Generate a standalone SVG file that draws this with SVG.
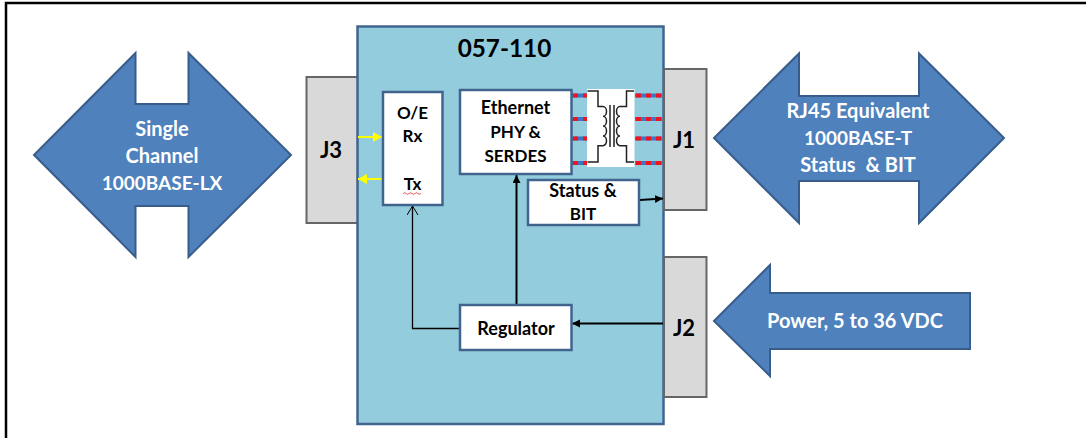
<svg xmlns="http://www.w3.org/2000/svg" width="1086" height="438" viewBox="0 0 1086 438">
<style>
text{font-family:Lato,"Liberation Sans",sans-serif;font-weight:700;text-anchor:middle;fill:#000}
.a{fill:#4f81bd;stroke:#385d8a;stroke-width:2;stroke-linejoin:miter}
.at{fill:#fff;font-size:20px}
.n{font-size:19px}
.g{fill:#d9d9d9;stroke:#666;stroke-width:2}
.b{fill:#fff;stroke:#41648f;stroke-width:2.5}
.t{font-size:18px}
.s{font-size:17px}
.j{font-size:22px}
.k{fill:none;stroke:#000;stroke-width:2}
.kt{fill:none;stroke:#000;stroke-width:1.3}
.y{fill:none;stroke:#ffff00;stroke-width:2}
.db{stroke:#3f74c4;stroke-width:4;fill:none}
.dr{stroke:#f0141e;stroke-width:4;stroke-dasharray:5 5;fill:none}
.x{fill:none;stroke:#222;stroke-width:1.5}
</style>
<defs>
<marker id="ah" markerUnits="userSpaceOnUse" markerWidth="9" markerHeight="9" refX="8" refY="4" orient="auto"><path d="M0 0L8 4L0 8Z" fill="#000"/></marker>
<marker id="ay" markerUnits="userSpaceOnUse" markerWidth="10" markerHeight="10" refX="9" refY="5" orient="auto"><path d="M0 0L9 5L0 10Z" fill="#ffff00"/></marker>
<marker id="ao" markerUnits="userSpaceOnUse" markerWidth="10" markerHeight="12" refX="9" refY="5.500" orient="auto"><path d="M0 0L9 5.500L0 11" fill="none" stroke="#000" stroke-width="1"/></marker>
</defs>
<rect width="1086" height="438" fill="#fff"/>
<path id="frame" d="M6 438V3H1086" fill="none" stroke="#000" stroke-width="2.500"/>

<g id="single-channel"><path class="a" d="M34 155L135.500 53V104H188.500V53L291 155L188.500 257V206H135.500V257Z"/>
<text class="at" x="162" y="136">Single</text><text class="at" x="162" y="163">Channel</text><text class="at n" x="162" y="190">1000BASE-LX</text></g>
<g id="rj45"><path class="a" d="M714 138L799 53.500V96H919V53.500L1004 138L919 223V181H799V223Z"/>
<text class="at" x="858" y="118">RJ45 Equivalent</text><text class="at n" x="858" y="145">1000BASE-T</text><text class="at" x="858" y="172" xml:space="preserve">Status  &amp; BIT</text></g>
<g id="power"><path class="a" d="M714 321L770 265V293H970V349H770V376Z"/>
<text class="at" x="855" y="328">Power, 5 to 36 VDC</text></g>

<g id="j3"><rect class="g" x="306.500" y="77" width="60" height="146"/><text class="j" x="331" y="158">J3</text></g>
<g id="module"><rect x="357.500" y="26.500" width="306" height="397.500" fill="#93cddd" stroke="#41648f" stroke-width="2.500"/>
<text x="504.500" y="57" font-size="24.300">057-110</text></g>
<g id="j1"><path d="M664 69H706.500V210H664Z" fill="#d9d9d9"/><path class="g" style="fill:none" d="M664 69H706.500V210H664V69"/><text class="j" x="684" y="148">J1</text></g>
<g id="j2"><path d="M664 257H706.500V397H664Z" fill="#d9d9d9"/><path class="g" style="fill:none" d="M664 257H706.500V397H664V257"/><text class="j" x="684" y="336">J2</text></g>

<g id="connectors">
<path class="y" marker-end="url(#ay)" d="M358 137H382"/>
<path class="y" marker-end="url(#ay)" d="M382 179H358"/>
<path class="kt" marker-end="url(#ao)" d="M460 328.500H412.500V206"/>
<path class="k" marker-end="url(#ah)" d="M516.500 305V175"/>
<path class="k" marker-end="url(#ah)" d="M640 200L663 198.500"/>
<path class="k" marker-end="url(#ah)" d="M663 323.500H572"/>
<g id="pairs">
<path class="db" d="M572 95.500H587M572 119H587M572 138.500H587M572 163H587M635 95.500H662M635 119H662M635 138.500H662M635 163H662"/>
<path class="dr" d="M573 95.500H587M573 119H587M573 138.500H587M573 163H587M636 95.500H662M636 119H662M636 138.500H662M636 163H662"/>
</g>
</g>

<g id="oe"><rect class="b" x="383" y="92" width="59.500" height="113"/>
<text class="s" x="412.500" y="119">O/E</text><text class="s" x="412.500" y="142">Rx</text><text class="s" x="412.500" y="190">Tx</text>
<path d="M403 193.500q1.500-1.500 3 0t3 0t3 0t3 0t3 0t3 0" fill="none" stroke="#e03030" stroke-width="0.800"/></g>
<g id="ethernet"><rect class="b" x="460" y="90" width="111.500" height="84"/>
<text class="t" x="515.500" y="114">Ethernet</text><text class="s" x="515.500" y="138">PHY &amp;</text><text class="s" x="515.500" y="162">SERDES</text></g>
<g id="status"><rect class="b" x="528" y="180" width="111" height="45"/>
<text class="t" x="583" y="197">Status &amp;</text><text class="s" x="583" y="220">BIT</text></g>
<g id="regulator"><rect class="b" x="460" y="305" width="111.500" height="45"/>
<text class="t" x="516" y="335">Regulator</text></g>
<g id="transformer"><rect x="587" y="89" width="47.500" height="78" fill="#fff"/>
<path class="x" d="M587.500 91H598V106.500H603a3.500 4.900 0 0 1 0 9.800a3.500 4.900 0 0 1 0 9.800a3.500 4.900 0 0 1 0 9.800a3.500 4.900 0 0 1 0 9.800H598V162H587.500"/>
<path class="x" d="M634 91H626.500V106.500H620a3.500 4.900 0 0 0 0 9.800a3.500 4.900 0 0 0 0 9.800a3.500 4.900 0 0 0 0 9.800a3.500 4.900 0 0 0 0 9.800H626.500V162H634"/>
<path class="x" d="M610 105V147M614 105V147"/></g>
</svg>
